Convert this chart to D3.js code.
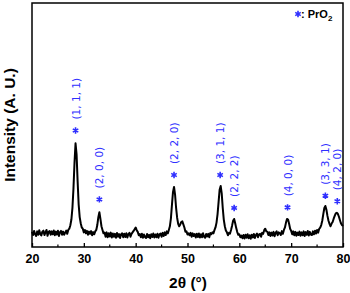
<!DOCTYPE html>
<html><head><meta charset="utf-8">
<script src="https://cdn.jsdelivr.net/npm/d3@7/dist/d3.min.js"></script>
<style>body{margin:0;background:#fff}svg{display:block}</style>
</head><body><svg id="c" width="350" height="293"></svg>
<script>
// 2θ start/step of the scan
const twoThetaStart = 20, twoThetaStep = 0.2;
const intensity = [
 125,98,132,104,90,128,100,138,106,94,
 126,134,98,120,140,92,124,130,100,128,
 104,136,96,126,102,134,90,122,132,100,
 126,100,118,134,108,140,150,178,225,320,
 480,690,850,760,540,350,245,195,160,150,
 120,140,112,132,100,126,108,130,96,122,
 104,128,140,180,245,285,230,170,140,112,
 118,84,120,80,112,86,118,78,110,84,
 108,76,114,84,106,74,104,112,80,108,
 82,112,78,106,116,84,108,120,132,146,
 160,138,124,96,106,80,108,76,102,82,
 74,106,80,100,72,104,82,110,78,102,
 80,108,76,104,110,84,116,90,120,98,
 128,112,140,170,235,345,450,492,430,320,
 240,190,170,185,205,210,185,160,125,128,
 102,112,96,116,84,112,90,106,78,108,
 82,110,78,104,80,112,84,76,106,86,
 108,80,114,104,120,112,138,160,200,270,
 370,470,500,440,320,225,170,135,120,96,
 116,110,140,175,215,230,195,155,122,100,
 104,80,94,72,98,70,100,76,104,72,
 96,68,100,78,106,74,98,110,80,104,
 108,84,116,108,138,150,128,126,98,120,
 90,118,94,124,88,116,128,96,120,112,
 98,130,108,140,160,200,230,225,190,150,
 132,104,128,96,124,92,118,98,126,92,
 120,96,128,90,122,100,132,94,124,102,
 98,128,104,134,110,140,118,148,158,180,
 215,270,320,336,305,255,215,190,170,192,
 205,232,255,275,280,272,250,222,195,180,
 172];
const twoTheta = intensity.map((_, i) => +(twoThetaStart + i * twoThetaStep).toFixed(1));

const peakPos = [28.4, 33.0, 47.4, 56.3, 59.0, 69.3, 76.6, 78.9];
const peakLabels = ["(1, 1, 1)", "(2, 0, 0)", "(2, 2, 0)", "(3, 1, 1)", "(2, 2, 2)", "(4, 0, 0)", "(3, 3, 1)", "(4, 2, 0)"];
const markerLevel = [955, 390, 590, 590, 320, 325, 420, 375];

const xTicks = [20, 30, 40, 50, 60, 70, 80];
const xMinor = [25, 35, 45, 55, 65, 75];

const svg = d3.select("#c");
const L = 32, R = 343, T = 3, B = 247;
const x = d3.scaleLinear().domain([20, 80]).range([L, R]);
const y = d3.scaleLinear().domain([0, 2000]).range([B, T]);
const blue = "#2f2fff";

// data line
const pts = twoTheta.map((t, i) => [t, intensity[i]]);
svg.append("path").datum(pts)
  .attr("fill", "none").attr("stroke", "#000").attr("stroke-width", 2)
  .attr("stroke-linejoin", "round")
  .attr("d", d3.line().x(d => x(d[0])).y(d => y(d[1])));

// frame
svg.append("rect").attr("x", L).attr("y", T).attr("width", R - L).attr("height", B - T)
  .attr("fill", "none").attr("stroke", "#000").attr("stroke-width", 1.5);

// bottom axis
const ax = svg.append("g").attr("transform", `translate(0,${B})`)
  .call(d3.axisBottom(x).tickValues(xTicks).tickSize(-4).tickPadding(7).tickFormat(d3.format("d")));
ax.select(".domain").remove();
ax.selectAll("line").attr("stroke-width", 1.3);
ax.selectAll("text").attr("font-family", "Liberation Sans, Arial, sans-serif")
  .attr("font-weight", "bold").attr("font-size", 12.5).attr("fill", "#000");
svg.append("g").selectAll("line").data(xMinor).join("line")
  .attr("x1", d => x(d)).attr("x2", d => x(d)).attr("y1", B).attr("y2", B - 2.5)
  .attr("stroke", "#000").attr("stroke-width", 1.2);

// axis titles
svg.append("text").attr("x", 188).attr("y", 288).attr("text-anchor", "middle")
  .attr("font-family", "Liberation Sans, Arial, sans-serif").attr("font-weight", "bold")
  .attr("font-size", 15.5).text("2θ (°)");
svg.append("text").attr("transform", "translate(15,125) rotate(-90)").attr("text-anchor", "middle")
  .attr("font-family", "Liberation Sans, Arial, sans-serif").attr("font-weight", "bold")
  .attr("font-size", 15.5).text("Intensity (A. U.)");

// peak markers and labels
const star = d3.symbol().type(d3.symbolAsterisk).size(28);
const g = svg.append("g");
peakPos.forEach((p, i) => {
  const px = x(p), py = y(markerLevel[i]);
  g.append("path").attr("d", star).attr("transform", `translate(${px},${py})`)
    .attr("fill", "none").attr("stroke", blue).attr("stroke-width", 1.6);
  g.append("text").attr("transform", `translate(${px + 4},${py - 11}) rotate(-90)`)
    .attr("font-family", "DejaVu Sans, sans-serif").attr("font-size", 10.5)
    .attr("fill", blue).text(peakLabels[i]);
});

// legend
svg.append("path").attr("d", star).attr("transform", "translate(298,14)")
  .attr("fill", "none").attr("stroke", blue).attr("stroke-width", 1.6);
const lt = svg.append("text").attr("x", 301).attr("y", 18)
  .attr("font-family", "Liberation Sans, Arial, sans-serif").attr("font-weight", "bold")
  .attr("font-size", 11).attr("fill", "#000");
lt.append("tspan").text(": PrO");
lt.append("tspan").attr("dy", 3).attr("font-size", 8).text("2");
</script></body></html>
